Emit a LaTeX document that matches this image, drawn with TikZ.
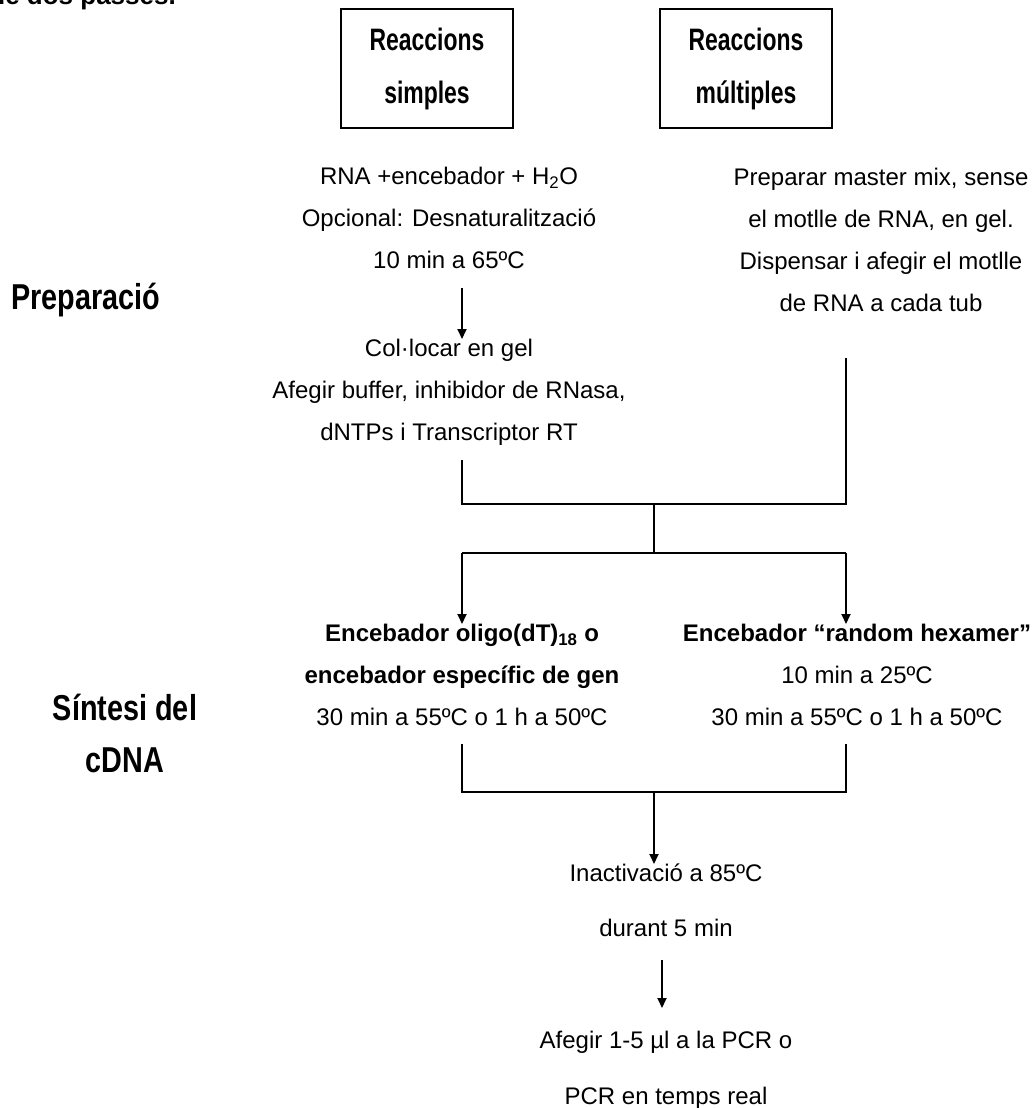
\documentclass[tikz,border=0pt]{standalone}
\usepackage{fontspec}
\setmainfont{Liberation Sans}
\newfontfamily\boxfont[FakeStretch=0.74]{Liberation Sans}
\newfontfamily\narrowfont[FakeStretch=0.8]{Liberation Sans}
\usetikzlibrary{arrows.meta}

\tikzset{
  txt/.style={align=center, inner sep=0pt, anchor=north, font=\fontsize{24}{42}\selectfont},
  hdbox/.style={draw, line width=1.6pt, minimum width=172pt, minimum height=119pt,
    inner sep=0pt, align=center, font=\boxfont\bfseries\fontsize{31}{53}\selectfont},
  lbl/.style={align=center, inner sep=0pt, font=\narrowfont\bfseries\fontsize{36}{52}\selectfont},
  flow/.style={line width=1.8pt},
  arr/.style={flow, -{Triangle[width=9pt,length=10pt]}}
}

\begin{document}
\begin{tikzpicture}[x=1pt, y=-1pt]
  \useasboundingbox (0,0) rectangle (1034,1108);

  % columns and joints
  \coordinate (colL) at (462,0);
  \coordinate (colM) at (654,0);
  \coordinate (colR) at (846,0);
  \coordinate (colB) at (662,0);
  \coordinate (j1) at (654,504);
  \coordinate (j2) at (654,553);
  \coordinate (j3) at (654,792);

  % cut title line
  \node[anchor=base east, inner sep=0pt, font=\bfseries\fontsize{26}{30}\selectfont] (title) at (176,5) {de dos passes.};

  % headings
  \node[hdbox] (simples) at (427,68.5) {Reaccions\\simples};
  \node[hdbox] (multiples) at (746,68.5) {Reaccions\\múltiples};

  % step labels
  \node[lbl] (prep) at (86,300) {Preparació};
  \node[lbl] (synth) at (125,733) {Síntesi del\\cDNA};

  % preparation
  \node[txt] (simple) at (449,167) {RNA +encebador + H\textsubscript{2}O\\Opcional: Desnaturalització\\10 min a 65ºC};
  \node[txt] (prepL) at (449,339) {Col·locar en gel\\Afegir buffer, inhibidor de RNasa,\\dNTPs i Transcriptor RT};
  \node[txt] (multi) at (881,168) {Preparar master mix, sense\\el motlle de RNA, en gel.\\Dispensar i afegir el motlle\\de RNA a cada tub};

  % cDNA synthesis
  \node[txt] (oligo) at (462,624) {\textbf{Encebador oligo(dT)\textsubscript{18} o}\\\textbf{encebador específic de gen}\\30 min a 55ºC o 1 h a 50ºC};
  \node[txt] (random) at (857,624) {\textbf{Encebador “random hexamer”}\\10 min a 25ºC\\30 min a 55ºC o 1 h a 50ºC};

  % end steps
  \node[txt, font=\fontsize{24}{55}\selectfont] (inact) at (666,864) {Inactivació a 85ºC\\durant 5 min};
  \node[txt, font=\fontsize{24}{56}\selectfont] (pcr) at (666,1031) {Afegir 1-5 µl a la PCR o\\PCR en temps real};

  % connectors
  \draw[arr] ([yshift=-19pt]simple.south -| colL) -- (prepL.north -| colL);
  \draw[flow] ([yshift=-14pt]prepL.south -| colL) |- (j1) -| ([yshift=-46pt]multi.south -| colR);
  \draw[flow] (j1) -- (j2);
  \draw[flow] (colL |- j2) -- (colR |- j2);
  \draw[arr] (colL |- j2) -- (oligo.north -| colL);
  \draw[arr] (colR |- j2) -- (random.north -| colR);
  \draw[flow] ([yshift=-18pt]oligo.south -| colL) |- (j3) -| ([yshift=-18pt]random.south -| colR);
  \draw[arr] (j3) -- (inact.north -| colM);
  \draw[arr, shorten >=23pt] ([yshift=-23pt]inact.south -| colB) -- (pcr.north -| colB);
\end{tikzpicture}
\end{document}
